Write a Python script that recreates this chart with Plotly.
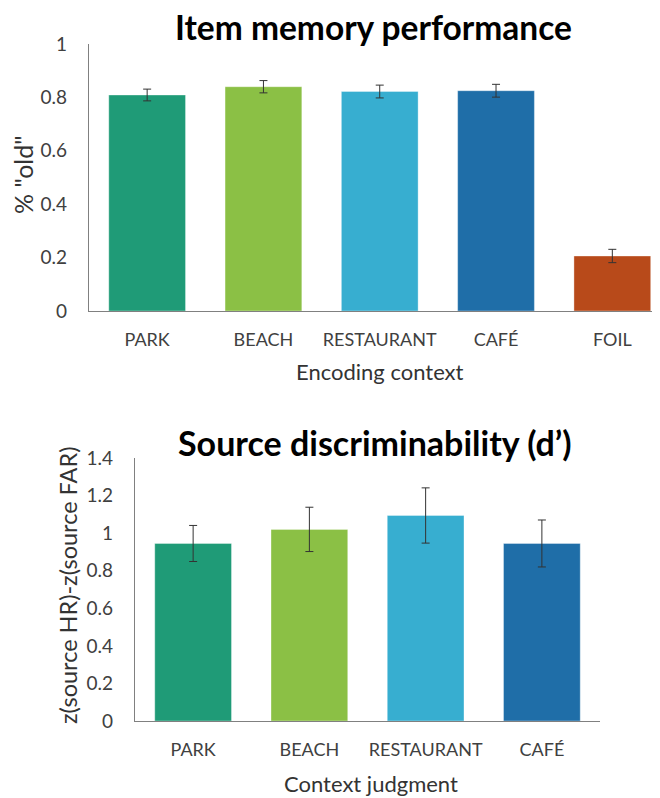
import plotly.graph_objects as go

# ---- data ----
item_categories = ["PARK", "BEACH", "RESTAURANT", "CAFÉ", "FOIL"]
item_values = [0.809, 0.840, 0.822, 0.825, 0.206]
item_errors = [0.022, 0.023, 0.024, 0.024, 0.025]
item_colors = ["#1f9b77", "#8bc045", "#37aed0", "#1f6ea8", "#b84a1a"]

source_categories = ["PARK", "BEACH", "RESTAURANT", "CAFÉ"]
source_values = [0.945, 1.020, 1.094, 0.945]
source_errors = [0.096, 0.118, 0.147, 0.125]
source_colors = ["#1f9b77", "#8bc045", "#37aed0", "#1f6ea8"]

item_ticks = [0, 0.2, 0.4, 0.6, 0.8, 1]
source_ticks = [0, 0.2, 0.4, 0.6, 0.8, 1, 1.2, 1.4]

# the page body adds an 8px offset; the figure is sized to fill the rest of the window
OFF = 8
W, H = 660 - OFF, 798 - OFF
FONT = "Lato"
TICK_COLOR = "#404040"
TITLE_COLOR = "#333333"
AXIS_COLOR = "#808080"

fig = go.Figure()

fig.add_trace(go.Bar(
    x=item_categories, y=item_values, marker_color=item_colors,
    marker_line=dict(color="rgba(255,255,255,0.35)", width=1),
    width=0.66,
    error_y=dict(type="data", array=item_errors, color="#333333", thickness=1, width=4),
    xaxis="x", yaxis="y", showlegend=False,
))
fig.add_trace(go.Bar(
    x=source_categories, y=source_values, marker_color=source_colors,
    marker_line=dict(color="rgba(255,255,255,0.35)", width=1),
    width=0.66,
    error_y=dict(type="data", array=source_errors, color="#333333", thickness=1, width=4),
    xaxis="x2", yaxis="y2", showlegend=False,
))

def px_y(p):
    return 1 - (p - OFF) / H

def px_x(p):
    return (p - OFF) / W

xaxis_common = dict(
    showgrid=False, zeroline=False, showline=True, linecolor=AXIS_COLOR, linewidth=1.3,
    ticks="", automargin=False, ticklabelstandoff=12,
    tickfont=dict(family=FONT, size=18, color=TICK_COLOR),
)
yaxis_common = dict(
    showgrid=False, zeroline=False, showline=True, linecolor=AXIS_COLOR, linewidth=1.3,
    ticks="", automargin=False, ticklabelstandoff=17,
    tickfont=dict(family=FONT, size=19, color=TICK_COLOR),
)

def label(text, x, y, size, angle=0, bold=False, color=TITLE_COLOR):
    return dict(text=f"<b>{text}</b>" if bold else text, x=px_x(x), y=px_y(y),
                xref="paper", yref="paper", xanchor="center", yanchor="middle",
                textangle=angle, showarrow=False,
                font=dict(family=FONT, size=size, color=color))

fig.update_layout(
    width=W, height=H,
    margin=dict(l=0, r=0, t=0, b=0, autoexpand=False),
    plot_bgcolor="white", paper_bgcolor="white",
    font=dict(family=FONT),
    xaxis=dict(**xaxis_common, domain=[px_x(89), 1.0], anchor="y", range=[-0.5, 4.41]),
    yaxis=dict(**yaxis_common, domain=[px_y(311), px_y(44)], anchor="x",
               range=[0, 1], tickvals=item_ticks, ticktext=[f"{v:g}" for v in item_ticks]),
    xaxis2=dict(**xaxis_common, domain=[px_x(135), px_x(600)], anchor="y2", range=[-0.5, 3.5]),
    yaxis2=dict(**yaxis_common, domain=[px_y(721), px_y(458)], anchor="x2",
                range=[0, 1.4], tickvals=source_ticks, ticktext=[f"{v:g}" for v in source_ticks]),
    annotations=[
        label("Item memory performance", 373, 27, 33.5, bold=True, color="black"),
        label("Source discriminability (d’)", 375, 442, 34, bold=True, color="black"),
        label("Encoding context", 380, 371, 22),
        label("Context judgment", 371, 783, 22),
        label('% "old"', 23, 175, 25, angle=-90),
        label("z(source HR)-z(source FAR)", 68, 586, 23.5, angle=-90),
    ],
)

fig.write_html("out.html")
